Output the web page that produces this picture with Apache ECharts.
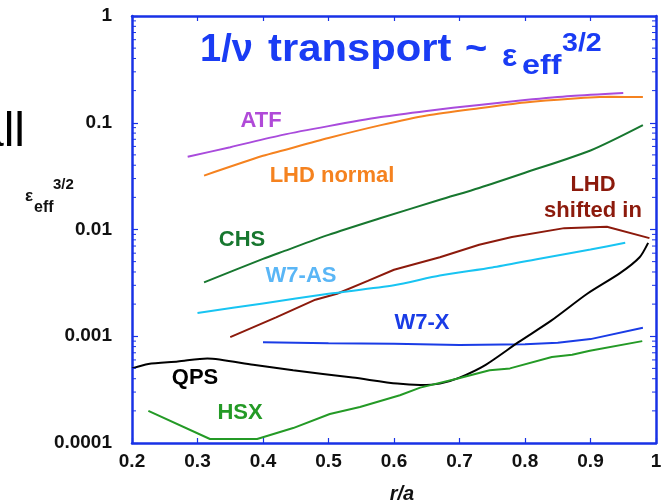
<!DOCTYPE html>
<html>
<head>
<meta charset="utf-8">
<script src="https://cdn.jsdelivr.net/npm/echarts@6/dist/echarts.min.js"></script>
<style>html,body{margin:0;padding:0;background:#fff;}#c{width:668px;height:501px;}</style>
</head>
<body>
<div id="c"></div>
<script>
// ---- data (x = r/a, y = eps_eff^{3/2}) ----
const xTickLabels = ['0.2','0.3','0.4','0.5','0.6','0.7','0.8','0.9','1'];
const yTickLabels = ['0.0001','0.001','0.01','0.1','1'];
const minorTickValues = [
  2e-4,3e-4,4e-4,5e-4,6e-4,7e-4,8e-4,9e-4,
  2e-3,3e-3,4e-3,5e-3,6e-3,7e-3,8e-3,9e-3,
  2e-2,3e-2,4e-2,5e-2,6e-2,7e-2,8e-2,9e-2,
  0.2,0.3,0.4,0.5,0.6,0.7,0.8,0.9
];
const atf = [[0.285,0.048],[0.35,0.059],[0.43,0.077],[0.5,0.093],[0.58,0.113],[0.65,0.129],[0.73,0.147],[0.8,0.163],[0.87,0.178],[0.95,0.19]];
const lhdNormal = [[0.31,0.032],[0.4,0.049],[0.43,0.055],[0.5,0.072],[0.58,0.095],[0.65,0.117],[0.73,0.137],[0.8,0.155],[0.87,0.168],[0.93,0.175],[0.98,0.174]];
const chs = [[0.31,0.0032],[0.4,0.0053],[0.43,0.0062],[0.5,0.0089],[0.58,0.0128],[0.67,0.019],[0.73,0.0245],[0.8,0.034],[0.9,0.055],[0.98,0.095]];
const lhdShifted = [[0.35,0.00098],[0.42,0.0015],[0.48,0.0022],[0.513,0.0025],[0.56,0.0033],[0.6,0.0042],[0.67,0.0055],[0.73,0.0072],[0.78,0.0085],[0.86,0.0103],[0.925,0.0106],[0.99,0.0083]];
const w7as = [[0.3,0.00165],[0.4,0.00203],[0.5,0.0025],[0.6,0.003],[0.67,0.0037],[0.75,0.0044],[0.82,0.0053],[0.9,0.0065],[0.953,0.0075]];
const w7x = [[0.4,0.00088],[0.5,0.00086],[0.6,0.00085],[0.7,0.00083],[0.8,0.00084],[0.85,0.00087],[0.9,0.00094],[0.98,0.0012]];
const qps = [[0.2,0.0005],[0.225,0.00055],[0.27,0.00058],[0.315,0.00062],[0.385,0.00054],[0.446,0.00048],[0.537,0.00041],[0.605,0.00036],[0.64,0.00035],[0.67,0.00036],[0.7,0.00041],[0.74,0.00054],[0.79,0.00088],[0.84,0.0014],[0.895,0.0025],[0.945,0.0039],[0.975,0.0055],[0.988,0.0075]];
const hsx = [[0.225,0.0002],[0.319,0.000109],[0.391,0.000109],[0.446,0.000138],[0.502,0.000187],[0.548,0.000217],[0.609,0.00028],[0.64,0.00033],[0.696,0.0004],[0.746,0.00048],[0.777,0.0005],[0.841,0.00064],[0.872,0.00067],[0.899,0.00073],[0.979,0.0009]];

const axisBlue = '#1832e6';
const titleBlue = '#1a3cf4';
const FONT = '"Liberation Sans", Arial, Helvetica, sans-serif';

function lineSeries(name, data, color, smooth) {
  return {
    name, type: 'line', data, showSymbol: false, symbol: 'none',
    smooth: smooth ? 0.25 : false,
    lineStyle: { color, width: 2 }, z: 3, animation: false
  };
}

function txt(x, y, text, color, size, opts) {
  opts = opts || {};
  return {
    type: 'text', x, y, z: 50, scaleX: opts.scaleX || 1,
    style: {
      text, fill: color, x: 0, y: 0,
      font: (opts.italic ? 'italic ' : '') + (opts.weight || 'bold') + ' ' + size + 'px ' + FONT,
      textAlign: opts.align || 'center', textVerticalAlign: 'middle'
    }
  };
}

const chart = echarts.init(document.getElementById('c'), null, { renderer: 'canvas' });
const axisCommon = {
  axisLine: { show: true, lineStyle: { color: axisBlue, width: 2.5 } },
  axisTick: { show: true, inside: true, length: 6, lineStyle: { color: axisBlue, width: 1.2 } },
  splitLine: { show: false }
};
chart.setOption({
  animation: false,
  backgroundColor: '#fff',
  grid: { left: 132, right: 12, top: 16, bottom: 58, containLabel: false },
  xAxis: [
    Object.assign({}, axisCommon, {
      type: 'value', min: 0.2, max: 1, interval: 0.1, position: 'bottom',
      axisTick: { show: true, inside: true, length: 5, lineStyle: { color: axisBlue, width: 1.2 } },
      axisLabel: { show: true, margin: 9, color: '#111', fontSize: 19, fontWeight: 'bold', fontFamily: FONT,
        formatter: v => xTickLabels[Math.round((v - 0.2) * 10)] }
    }),
    Object.assign({}, axisCommon, {
      type: 'value', min: 0.2, max: 1, interval: 0.1, position: 'top',
      axisTick: { show: true, inside: true, length: 5, lineStyle: { color: axisBlue, width: 1.2 } },
      axisLabel: { show: false }
    })
  ],
  yAxis: [
    Object.assign({}, axisCommon, {
      type: 'log', logBase: 10, min: 0.0001, max: 1, position: 'left',
      axisLabel: { show: true, margin: 20, color: '#111', fontSize: 19, fontWeight: 'bold', fontFamily: FONT,
        formatter: v => yTickLabels[Math.round(Math.log10(v)) + 4] }
    }),
    Object.assign({}, axisCommon, {
      type: 'log', logBase: 10, min: 0.0001, max: 1, position: 'right',
      axisLabel: { show: false }
    })
  ],
  series: [
    lineSeries('ATF', atf, '#a94bdc', true),
    lineSeries('LHD normal', lhdNormal, '#f5821f', true),
    lineSeries('CHS', chs, '#17772f', true),
    lineSeries('LHD shifted in', lhdShifted, '#8c1a0c', false),
    lineSeries('W7-AS', w7as, '#18c4f2', true),
    lineSeries('W7-X', w7x, '#1a3ce6', false),
    lineSeries('QPS', qps, '#000000', true),
    lineSeries('HSX', hsx, '#249a26', false),
    {
      type: 'custom', name: 'minorTicks', clip: false, z: 4, silent: true,
      data: minorTickValues.map(v => [0.2, v]),
      renderItem: (params, api) => {
        const v = api.value(1);
        const l = api.coord([0.2, v]);
        const r = api.coord([1, v]);
        return { type: 'group', children: [
          { type: 'line', shape: { x1: l[0], y1: l[1], x2: l[0] + 4, y2: l[1] }, style: { stroke: axisBlue, lineWidth: 1 } },
          { type: 'line', shape: { x1: r[0] - 4, y1: r[1], x2: r[0], y2: r[1] }, style: { stroke: axisBlue, lineWidth: 1 } }
        ]};
      }
    }
  ],
  graphic: [
    // title
    txt(200, 51, '1/ν', titleBlue, 38, { align: 'left' }),
    txt(268, 51, 'transport', titleBlue, 38, { align: 'left', scaleX: 1.1 }),
    txt(465, 51, '~', titleBlue, 38, { align: 'left' }),
    txt(502, 57, 'ε', titleBlue, 32, { align: 'left' }),
    txt(522, 66, 'eff', titleBlue, 28, { align: 'left', scaleX: 1.15 }),
    txt(562, 44, '3/2', titleBlue, 26, { align: 'left', scaleX: 1.1 }),
    // y-axis label
    txt(25, 196, 'ε', '#111', 17, { align: 'left' }),
    txt(34, 208, 'eff', '#111', 16, { align: 'left' }),
    txt(53, 185, '3/2', '#111', 15, { align: 'left' }),
    // x-axis label
    txt(402, 494, 'r/a', '#111', 20, { italic: true }),
    // cropped slide text at left
    txt(25, 133, 'all', '#000', 48, { align: 'right', weight: 'normal' }),
    // series labels
    txt(261, 121, 'ATF', '#b04ad8', 22),
    txt(332, 176, 'LHD normal', '#f5821f', 22),
    txt(242, 240, 'CHS', '#17772f', 22),
    txt(301, 276, 'W7-AS', '#5ab6f6', 22),
    txt(593, 185, 'LHD', '#8c1a0c', 22),
    txt(593, 211, 'shifted in', '#8c1a0c', 22),
    txt(422, 323, 'W7-X', '#1a3ce6', 22),
    txt(195, 378, 'QPS', '#000', 22),
    txt(240, 413, 'HSX', '#249a26', 22)
  ]
});
</script>
</body>
</html>
